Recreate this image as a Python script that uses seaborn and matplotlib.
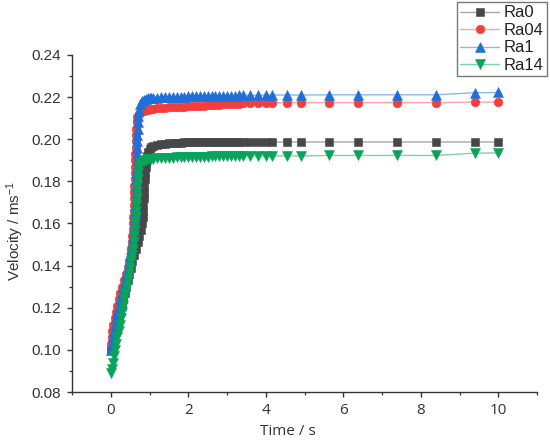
import matplotlib
matplotlib.use("Agg")
import matplotlib.pyplot as plt
import seaborn as sns
from matplotlib.ticker import MultipleLocator


# 速度数据
# 上升段：每条曲线单独的时间点
ra0_rise_t = [0.00, 0.04, 0.08, 0.12, 0.16, 0.20, 0.24, 0.28, 0.32, 0.36, 0.40, 0.44,
              0.48, 0.52, 0.56, 0.60, 0.65, 0.70, 0.74, 0.78, 0.80, 0.82, 0.83, 0.84,
              0.85, 0.86, 0.87, 0.88, 0.89, 0.90, 0.91, 0.93, 0.96, 1.00, 1.05]
ra0_rise_v = [0.100, 0.103, 0.106, 0.109, 0.112, 0.115, 0.118, 0.121, 0.124, 0.127, 0.130, 0.133,
              0.136, 0.139, 0.142, 0.145, 0.148, 0.151, 0.154, 0.157, 0.160, 0.163, 0.166, 0.169,
              0.172, 0.175, 0.178, 0.181, 0.184, 0.187, 0.189, 0.192, 0.194, 0.1953, 0.1962]

ra04_rise_t = [0.00, 0.02, 0.04, 0.07, 0.10, 0.13, 0.16, 0.20, 0.25, 0.30, 0.35, 0.40,
               0.44, 0.48, 0.51, 0.53, 0.55, 0.56, 0.57, 0.58, 0.585, 0.59, 0.595, 0.60,
               0.605, 0.61, 0.615, 0.62, 0.625, 0.63, 0.635, 0.64, 0.645, 0.65, 0.66, 0.67,
               0.69, 0.72, 0.76, 0.80, 0.85, 0.90, 0.95, 1.00, 1.05]
ra04_rise_v = [0.103, 0.106, 0.109, 0.112, 0.115, 0.118, 0.121, 0.124, 0.127, 0.130, 0.133, 0.136,
               0.139, 0.142, 0.145, 0.148, 0.151, 0.154, 0.157, 0.160, 0.163, 0.166, 0.169, 0.172,
               0.175, 0.178, 0.181, 0.184, 0.187, 0.190, 0.193, 0.196, 0.199, 0.202, 0.205, 0.208,
               0.2105, 0.2118, 0.2126, 0.2132, 0.2136, 0.2139, 0.2141, 0.2142, 0.2143]

ra1_rise_t = [0.00, 0.02, 0.05, 0.08, 0.11, 0.14, 0.17, 0.20, 0.24, 0.28, 0.32, 0.36,
              0.40, 0.44, 0.47, 0.50, 0.53, 0.56, 0.58, 0.60, 0.61, 0.62, 0.63, 0.635,
              0.64, 0.645, 0.65, 0.655, 0.66, 0.665, 0.67, 0.675, 0.68, 0.685, 0.69, 0.695,
              0.70, 0.71, 0.73, 0.76, 0.80, 0.85, 0.90, 0.95, 1.00, 1.05]
ra1_rise_v = [0.100, 0.103, 0.106, 0.109, 0.112, 0.115, 0.118, 0.121, 0.124, 0.127, 0.130, 0.133,
              0.136, 0.139, 0.142, 0.145, 0.148, 0.151, 0.154, 0.157, 0.160, 0.163, 0.166, 0.169,
              0.172, 0.175, 0.178, 0.181, 0.184, 0.187, 0.190, 0.193, 0.196, 0.199, 0.202, 0.205,
              0.208, 0.211, 0.214, 0.2165, 0.2180, 0.2188, 0.2192, 0.2194, 0.2195, 0.2196]

ra14_rise_t = [0.00, 0.02, 0.05, 0.08, 0.11, 0.14, 0.17, 0.20, 0.23, 0.26, 0.29, 0.32,
               0.35, 0.38, 0.41, 0.44, 0.47, 0.50, 0.53, 0.56, 0.58, 0.60, 0.61, 0.62,
               0.63, 0.64, 0.65, 0.66, 0.67, 0.68, 0.69, 0.70, 0.71, 0.72, 0.75, 0.80,
               0.85, 0.90, 0.95, 1.00, 1.05]
ra14_rise_v = [0.089, 0.091, 0.094, 0.097, 0.100, 0.103, 0.106, 0.109, 0.112, 0.115, 0.118, 0.121,
               0.124, 0.127, 0.130, 0.133, 0.136, 0.139, 0.142, 0.145, 0.148, 0.151, 0.154, 0.157,
               0.160, 0.163, 0.166, 0.169, 0.172, 0.175, 0.178, 0.181, 0.184, 0.187, 0.1885, 0.1893,
               0.1898, 0.1901, 0.1904, 0.1906, 0.1907]

# 稳定段：四条曲线共用的时间点
tail_t = [1.1, 1.2, 1.3, 1.4, 1.5, 1.6, 1.7, 1.8, 1.9, 2.0, 2.1, 2.2,
          2.3, 2.4, 2.5, 2.6, 2.7, 2.8, 2.9, 3.0, 3.1, 3.2, 3.3, 3.4,
          3.6, 3.8, 4.0, 4.15, 4.54, 4.9, 5.63, 6.37, 7.38, 8.39, 9.39, 10.0]
ra0_tail_v = [0.1967, 0.1972, 0.1976, 0.1979, 0.1981, 0.1982, 0.1983, 0.1984, 0.1985, 0.1985, 0.1986, 0.1986,
              0.1986, 0.1986, 0.1986, 0.1987, 0.1987, 0.1987, 0.1987, 0.1987, 0.1987, 0.1987, 0.1987, 0.1987,
              0.1987, 0.1987, 0.1987, 0.1987, 0.1987, 0.1987, 0.1987, 0.1987, 0.1987, 0.1987, 0.1987, 0.1987]
ra04_tail_v = [0.2144, 0.2146, 0.2148, 0.2150, 0.2151, 0.2152, 0.2153, 0.2154, 0.2155, 0.2156, 0.2157, 0.2158,
               0.2159, 0.2160, 0.2161, 0.2162, 0.2163, 0.2164, 0.2165, 0.2166, 0.2167, 0.2168, 0.2169, 0.2170,
               0.2171, 0.2172, 0.2172, 0.2173, 0.2174, 0.2174, 0.2174, 0.2174, 0.2174, 0.2174, 0.2176, 0.2176]
ra1_tail_v = [0.2197, 0.2198, 0.2199, 0.2200, 0.2200, 0.2201, 0.2201, 0.2202, 0.2202, 0.2203, 0.2203, 0.2204,
              0.2204, 0.2205, 0.2205, 0.2205, 0.2206, 0.2206, 0.2206, 0.2207, 0.2207, 0.2207, 0.2208, 0.2208,
              0.2209, 0.2209, 0.2210, 0.2210, 0.2210, 0.2210, 0.2211, 0.2211, 0.2211, 0.2211, 0.2221, 0.2222]
ra14_tail_v = [0.1908, 0.1909, 0.1910, 0.1911, 0.1912, 0.1913, 0.1914, 0.1915, 0.1916, 0.1916, 0.1917, 0.1917,
               0.1918, 0.1918, 0.1918, 0.1919, 0.1919, 0.1919, 0.1920, 0.1920, 0.1920, 0.1920, 0.1920, 0.1921,
               0.1921, 0.1921, 0.1921, 0.1921, 0.1921, 0.1921, 0.1923, 0.1923, 0.1923, 0.1923, 0.1934, 0.1935]

labels = ['Ra0', 'Ra04', 'Ra1', 'Ra14']
x_ticks = [0, 2, 4, 6, 8, 10]
y_ticks = [0.08, 0.10, 0.12, 0.14, 0.16, 0.18, 0.20, 0.22, 0.24]


def main():
    sns.set_style('ticks')
    plt.rcParams['font.family'] = ['Liberation Sans', 'DejaVu Sans']
    plt.rcParams['mathtext.default'] = 'regular'

    fig = plt.figure(figsize=(5.5, 4.45), dpi=100)
    ax = fig.add_axes([72 / 550, 53 / 445, 465 / 550, 337 / 445])

    series = [
        (ra0_rise_t + tail_t, ra0_rise_v + ra0_tail_v),
        (ra04_rise_t + tail_t, ra04_rise_v + ra04_tail_v),
        (ra1_rise_t + tail_t, ra1_rise_v + ra1_tail_v),
        (ra14_rise_t + tail_t, ra14_rise_v + ra14_tail_v),
    ]
    marker_colors = ['#474747', '#f43d3d', '#1f6fd8', '#0aa35b']
    line_colors = ['#a8a8a8', '#f6a5a5', '#8db8ec', '#82cfa8']
    markers = ['s', 'o', '^', 'v']
    sizes = [5.8, 6.2, 7.2, 7.2]

    for (t, v), lab, mc, lc, m, ms in zip(series, labels, marker_colors,
                                          line_colors, markers, sizes):
        sns.lineplot(x=t, y=v, ax=ax, estimator=None, sort=False,
                     color=lc, linewidth=1.0, marker=m, markersize=ms,
                     markerfacecolor=mc, markeredgecolor=mc,
                     markeredgewidth=0.4, label=lab)

    ax.set_xlim(-1, 11)
    ax.set_ylim(0.08, 0.24)
    ax.set_xticks(x_ticks)
    ax.set_yticks(y_ticks)
    ax.set_yticklabels([f'{y:.2f}' for y in y_ticks])
    ax.xaxis.set_minor_locator(MultipleLocator(1))
    ax.yaxis.set_minor_locator(MultipleLocator(0.01))

    sns.despine(ax=ax)
    for side in ['left', 'bottom']:
        ax.spines[side].set_color('#333333')
        ax.spines[side].set_linewidth(1.0)
    ax.tick_params(which='major', length=3.8, width=1.0, color='#333333',
                   labelcolor='#333333', pad=4)
    ax.tick_params(which='minor', length=2.2, width=0.9, color='#333333')
    ax.tick_params(axis='y', labelsize=11)
    ax.tick_params(axis='x', labelsize=11)
    for lbl in ax.get_xticklabels():
        lbl.set_fontfamily(['Open Sans', 'DejaVu Sans'])

    ax.set_xlabel('Time / s', fontsize=11, color='#333333',
                  fontfamily=['Open Sans', 'DejaVu Sans'])
    ax.xaxis.set_label_coords(0.4645, -0.095)
    ax.set_ylabel('Velocity / ms$^{-1}$', fontsize=11, color='#333333')
    ax.yaxis.set_label_coords(-0.098, 0.478)

    leg = ax.legend(loc='upper right', bbox_to_anchor=(547 / 550, 443 / 445),
                    bbox_transform=fig.transFigure, fontsize=12, frameon=True,
                    fancybox=False, framealpha=1, edgecolor='#777777',
                    borderpad=0.2, labelspacing=0.15, handlelength=2.3,
                    handletextpad=0.3, borderaxespad=0)
    leg.get_frame().set_linewidth(1.0)
    for txt in leg.get_texts():
        txt.set_color('#222222')

    fig.savefig('out.png', dpi=100)


if __name__ == "__main__":
    main()
